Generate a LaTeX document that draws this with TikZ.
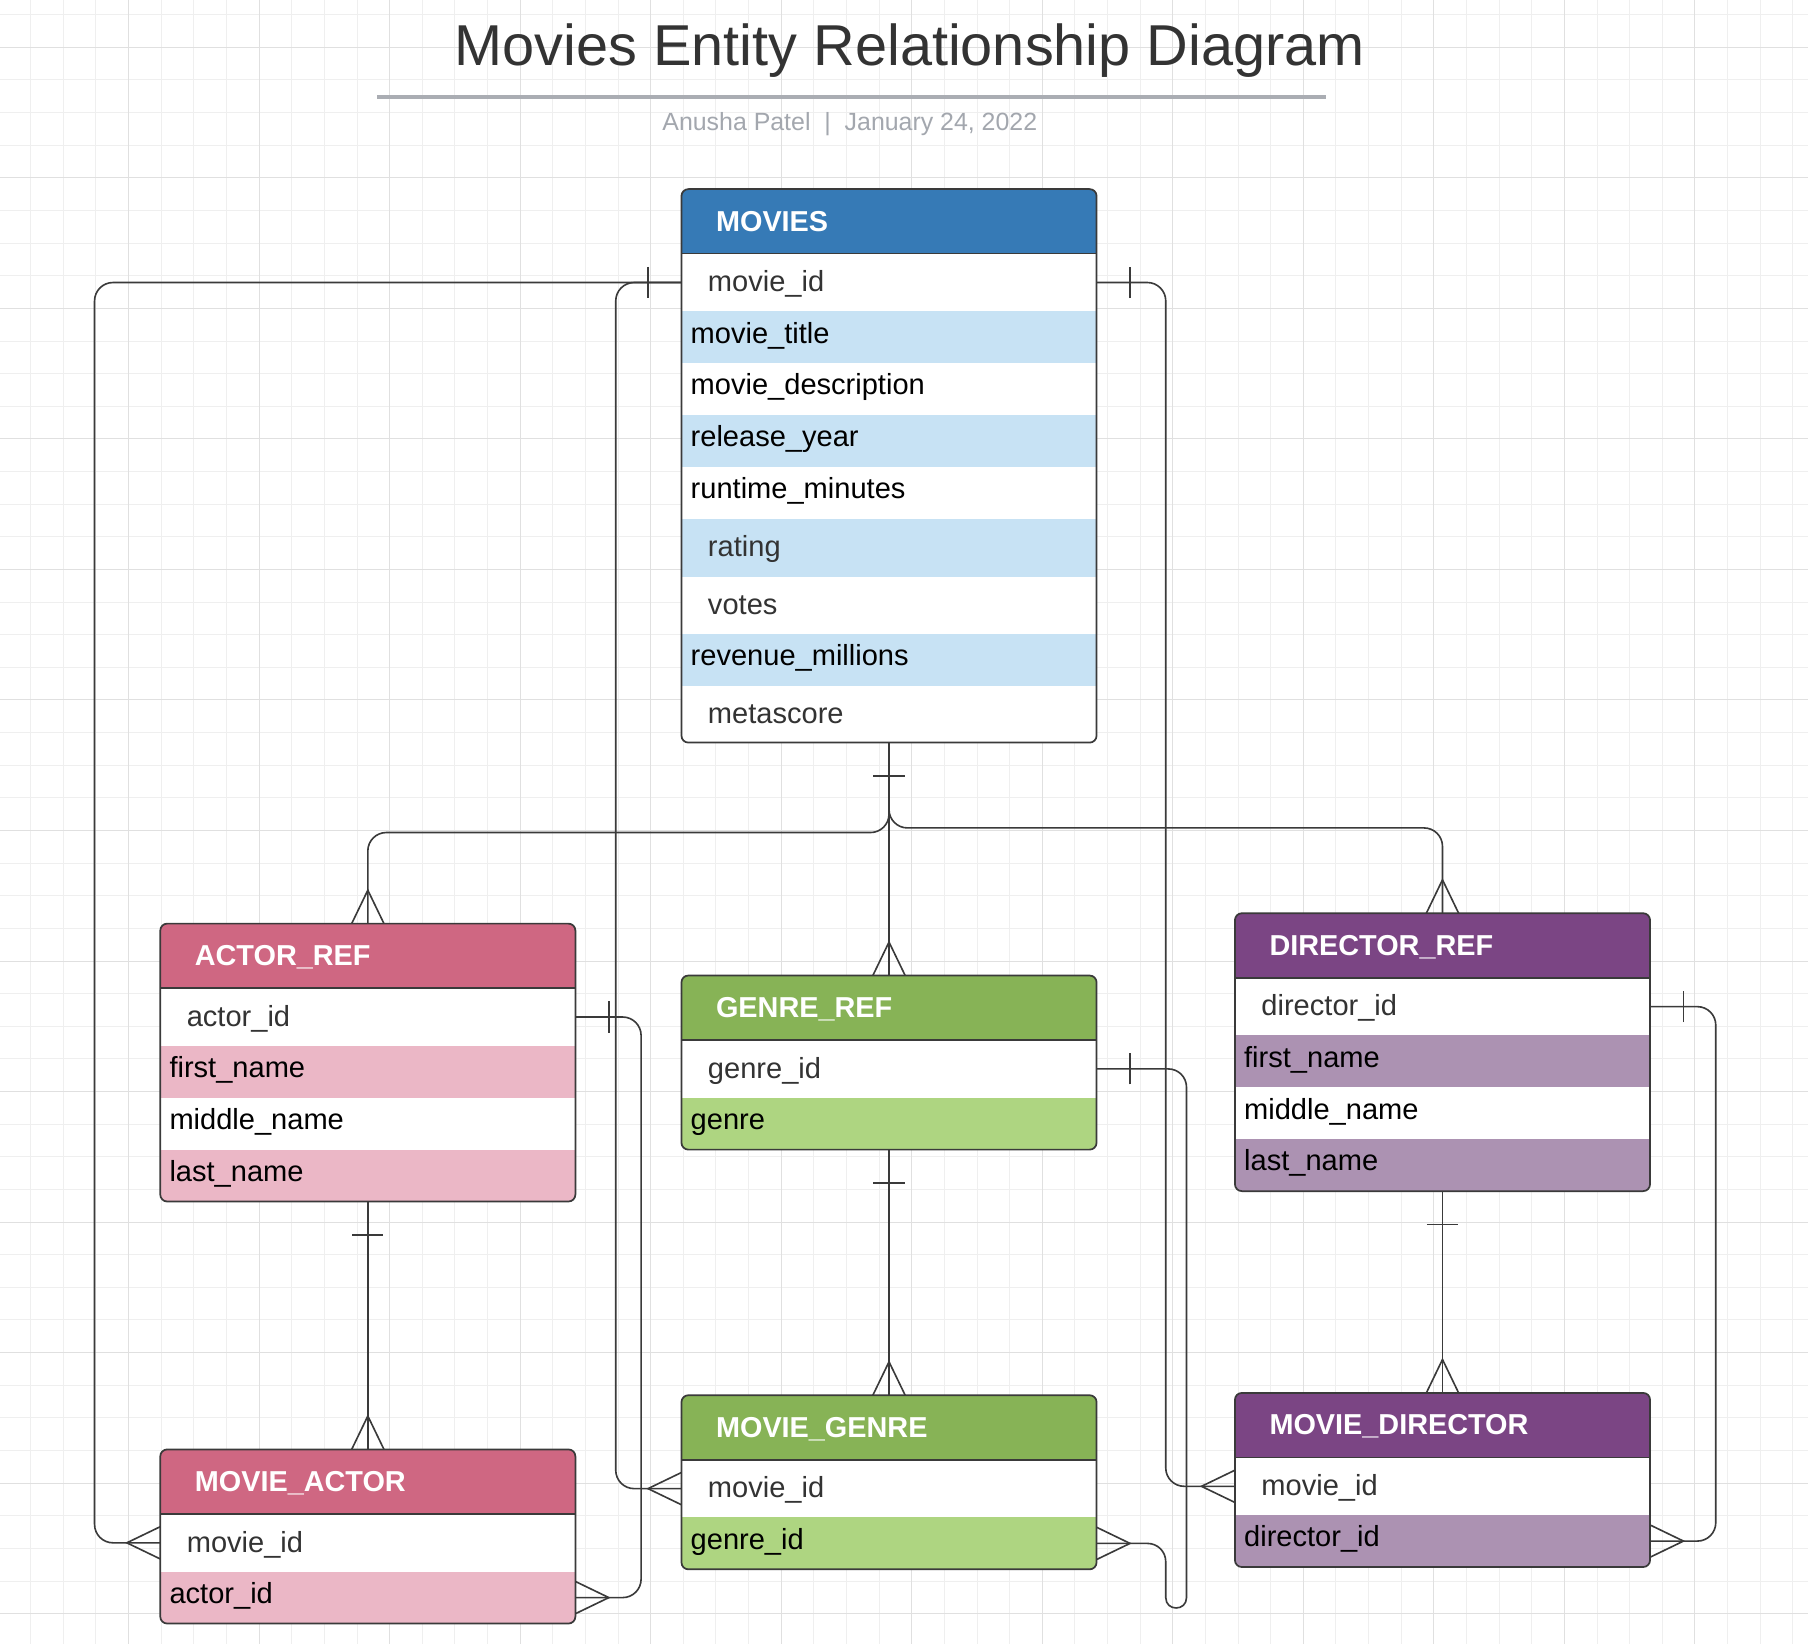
\documentclass[tikz,border=0pt]{standalone}
\usepackage{fontspec}
\setmainfont{Liberation Sans}
\usetikzlibrary{positioning,calc}

\definecolor{moviesblue}{HTML}{367AB6}
\definecolor{moviesrow}{HTML}{C7E2F4}
\definecolor{actorpink}{HTML}{CF6782}
\definecolor{actorrow}{HTML}{EBB7C6}
\definecolor{genregreen}{HTML}{87B356}
\definecolor{genrerow}{HTML}{AED581}
\definecolor{directorpurple}{HTML}{7B4584}
\definecolor{directorrow}{HTML}{AC92B2}
\definecolor{linegray}{HTML}{3A3A3A}
\definecolor{softgray}{HTML}{333333}
\definecolor{gridminor}{HTML}{EFEFEF}
\definecolor{gridmajor}{HTML}{E0E0E0}
\definecolor{subgray}{HTML}{A3A7AE}
\definecolor{rulegray}{HTML}{AAADB3}

\newcommand\fieldfont{\fontsize{12.6}{15}\selectfont}
\newcommand\headfont{\fontsize{12.5}{15}\selectfont\bfseries}

\tikzset{
	hdr/.style={rectangle, anchor=north west, outer sep=0pt, minimum width=180pt, minimum height=28pt, inner xsep=15pt, inner ysep=0pt, text width=150pt, align=left, text height=8.4pt, text depth=0pt, text=white, font=\headfont},
	fld/.style={rectangle, anchor=north west, outer sep=0pt, minimum width=180pt, minimum height=22.5pt, inner xsep=4pt, inner ysep=0pt, text width=172pt, align=left, text height=9.5pt, text depth=4.5pt, text=black, fill=white, font=\fieldfont},
	softfld/.style={fld, inner xsep=11.5pt, text width=157pt, text depth=1.5pt, text=softgray, minimum height=25pt},
	tbl/.style={draw=linegray, line width=0.75pt, rounded corners=3pt},
	rel/.style={draw=linegray, line width=0.7pt},
	route/.style={rel, rounded corners=8pt},
	many/.pic={\draw[rel] (0,-14) -- (-29,0) -- (0,14);},
	one/.pic={\draw[rel] (-29,-13.5) -- (-29,13.5);}
}

\begin{document}
\begin{tikzpicture}[x=0.5pt, y=-0.5pt]
		\useasboundingbox (0,0) rectangle (1568,1426);
		\fill [white] (0,0) rectangle (1568,1426);

		\foreach \i in {0,...,56} \draw [gridminor, line width=0.4pt] ({-1.7+28.3*\i},0) -- ++(0,1426);
		\foreach \i in {0,...,50} \draw [gridminor, line width=0.4pt] (0,{12.7+28.3*\i}) -- ++(1568,0);
		\foreach \i in {0,...,14} \draw [gridmajor, line width=0.4pt] ({-1.7+113.2*\i},0) -- ++(0,1426);
		\foreach \i in {0,...,12} \draw [gridmajor, line width=0.4pt] (0,{41+113.2*\i}) -- ++(1568,0);

		\node [anchor=base, text=softgray, font=\fontsize{25}{30}\selectfont] (title) at (789,57) {Movies Entity Relationship Diagram};
		\draw [rulegray, line width=1.5pt] (327,84) -- (1150,84);
		\node [anchor=base, text=subgray, font=\fontsize{10.8}{13}\selectfont] (byline) at (737,113) {Anusha Patel\ \ |\ \ January 24, 2022};

		\begin{scope}
		\clip [rounded corners=3pt] (591,164) rectangle (951,644);
		\node [hdr, fill=moviesblue] (mv-hd) at (591,164) {MOVIES};
		\node [softfld] (mv-id) at (mv-hd.south west) {movie\_id};
		\node [fld, fill=moviesrow] (mv-title) at (mv-id.south west) {movie\_title};
		\node [fld] (mv-desc) at (mv-title.south west) {movie\_description};
		\node [fld, fill=moviesrow] (mv-year) at (mv-desc.south west) {release\_year};
		\node [fld] (mv-runtime) at (mv-year.south west) {runtime\_minutes};
		\node [softfld, fill=moviesrow] (mv-rating) at (mv-runtime.south west) {rating};
		\node [softfld] (mv-votes) at (mv-rating.south west) {votes};
		\node [fld, fill=moviesrow] (mv-revenue) at (mv-votes.south west) {revenue\_millions};
		\node [softfld, minimum height=24.5pt] (mv-meta) at (mv-revenue.south west) {metascore};
		\end{scope}
		\draw [tbl] (mv-hd.north west) rectangle (mv-meta.south east);
		\draw [rel] (mv-hd.south west) -- (mv-hd.south east);

		\begin{scope}
		\clip [rounded corners=3pt] (139,801) rectangle (499,1042);
		\node [hdr, fill=actorpink] (ar-hd) at (139,801) {ACTOR\_REF};
		\node [softfld] (ar-id) at (ar-hd.south west) {actor\_id};
		\node [fld, fill=actorrow] (ar-first) at (ar-id.south west) {first\_name};
		\node [fld] (ar-middle) at (ar-first.south west) {middle\_name};
		\node [fld, fill=actorrow] (ar-last) at (ar-middle.south west) {last\_name};
		\end{scope}
		\draw [tbl] (ar-hd.north west) rectangle (ar-last.south east);
		\draw [rel] (ar-hd.south west) -- (ar-hd.south east);

		\begin{scope}
		\clip [rounded corners=3pt] (591,846) rectangle (951,997);
		\node [hdr, fill=genregreen] (gr-hd) at (591,846) {GENRE\_REF};
		\node [softfld] (gr-id) at (gr-hd.south west) {genre\_id};
		\node [fld, fill=genrerow] (gr-genre) at (gr-id.south west) {genre};
		\end{scope}
		\draw [tbl] (gr-hd.north west) rectangle (gr-genre.south east);
		\draw [rel] (gr-hd.south west) -- (gr-hd.south east);

		\begin{scope}
		\clip [rounded corners=3pt] (1071,792) rectangle (1431,1033);
		\node [hdr, fill=directorpurple] (dr-hd) at (1071,792) {DIRECTOR\_REF};
		\node [softfld] (dr-id) at (dr-hd.south west) {director\_id};
		\node [fld, fill=directorrow] (dr-first) at (dr-id.south west) {first\_name};
		\node [fld] (dr-middle) at (dr-first.south west) {middle\_name};
		\node [fld, fill=directorrow] (dr-last) at (dr-middle.south west) {last\_name};
		\end{scope}
		\draw [tbl] (dr-hd.north west) rectangle (dr-last.south east);
		\draw [rel] (dr-hd.south west) -- (dr-hd.south east);

		\begin{scope}
		\clip [rounded corners=3pt] (139,1257) rectangle (499,1408);
		\node [hdr, fill=actorpink] (ma-hd) at (139,1257) {MOVIE\_ACTOR};
		\node [softfld] (ma-id) at (ma-hd.south west) {movie\_id};
		\node [fld, fill=actorrow] (ma-actor) at (ma-id.south west) {actor\_id};
		\end{scope}
		\draw [tbl] (ma-hd.north west) rectangle (ma-actor.south east);
		\draw [rel] (ma-hd.south west) -- (ma-hd.south east);

		\begin{scope}
		\clip [rounded corners=3pt] (591,1210) rectangle (951,1361);
		\node [hdr, fill=genregreen] (mg-hd) at (591,1210) {MOVIE\_GENRE};
		\node [softfld] (mg-id) at (mg-hd.south west) {movie\_id};
		\node [fld, fill=genrerow] (mg-genre) at (mg-id.south west) {genre\_id};
		\end{scope}
		\draw [tbl] (mg-hd.north west) rectangle (mg-genre.south east);
		\draw [rel] (mg-hd.south west) -- (mg-hd.south east);

		\begin{scope}
		\clip [rounded corners=3pt] (1071,1208) rectangle (1431,1359);
		\node [hdr, fill=directorpurple] (md-hd) at (1071,1208) {MOVIE\_DIRECTOR};
		\node [softfld] (md-id) at (md-hd.south west) {movie\_id};
		\node [fld, fill=directorrow] (md-dir) at (md-id.south west) {director\_id};
		\end{scope}
		\draw [tbl] (md-hd.north west) rectangle (md-dir.south east);
		\draw [rel] (md-hd.south west) -- (md-hd.south east);

		\coordinate (laneA) at (82,0);
		\coordinate (laneB) at (534,0);
		\coordinate (laneC) at (556,0);
		\coordinate (laneD) at (1011,0);
		\coordinate (laneE) at (1029,0);
		\coordinate (laneF) at (1488,0);

		\coordinate (gk1) at (laneE |- gr-id.east);
		\coordinate (gk2) at ($(laneE |- mg-genre.east)+(0,47)$);
		\coordinate (gk3) at ($(laneD |- mg-genre.east)+(0,47)$);
		\coordinate (gk4) at (laneD |- mg-genre.east);

		\draw [route] (mv-id.west) -| (laneA |- ma-id.west) -- (ma-id.west);
		\draw [route] (mv-id.west) -| (laneB |- mg-id.west) -- (mg-id.west);
		\draw [route] (mv-id.east) -| (laneD |- md-id.west) -- (md-id.west);
		\draw [route] (mv-meta.south) -- ++(0,78) -| (ar-hd.north);
		\draw [route] (mv-meta.south) -- (gr-hd.north);
		\draw [route] (mv-meta.south) -- ++(0,74) -| (dr-hd.north);
		\draw [route] (ar-id.east) -| (laneC |- ma-actor.east) -- (ma-actor.east);
		\draw [route] (ar-last.south) -- (ma-hd.north);
		\draw [route] (gr-genre.south) -- (mg-hd.north);
		\draw [rel] (gr-id.east) -- ($(gk1)+(-16,0)$) .. controls ($(gk1)+(-7,0)$) and ($(gk1)+(0,7)$) .. ($(gk1)+(0,16)$) -- (gk2) .. controls ($(gk2)+(0,12)$) and ($(gk3)+(0,12)$) .. (gk3) -- ($(gk4)+(0,16)$) .. controls ($(gk4)+(0,7)$) and ($(gk4)+(-7,0)$) .. ($(gk4)+(-16,0)$) -- (mg-genre.east);
		\draw [route] (dr-id.east) -| (laneF |- md-dir.east) -- (md-dir.east);
		\draw [route] (dr-last.south) -- (md-hd.north);

		\pic at (mv-id.west) {one};
		\pic [rotate=180] at (mv-id.east) {one};
		\pic [rotate=90] at (mv-meta.south) {one};
		\pic [rotate=180] at (ar-id.east) {one};
		\pic [rotate=90] at (ar-last.south) {one};
		\pic [rotate=180] at (gr-id.east) {one};
		\pic [rotate=90] at (gr-genre.south) {one};
		\pic [rotate=180] at (dr-id.east) {one};
		\pic [rotate=90] at (dr-last.south) {one};

		\pic at (ma-id.west) {many};
		\pic at (mg-id.west) {many};
		\pic at (md-id.west) {many};
		\pic [rotate=-90] at (ar-hd.north) {many};
		\pic [rotate=-90] at (gr-hd.north) {many};
		\pic [rotate=-90] at (dr-hd.north) {many};
		\pic [rotate=-90] at (ma-hd.north) {many};
		\pic [rotate=-90] at (mg-hd.north) {many};
		\pic [rotate=-90] at (md-hd.north) {many};
		\pic [rotate=180] at (ma-actor.east) {many};
		\pic [rotate=180] at (mg-genre.east) {many};
		\pic [rotate=180] at (md-dir.east) {many};

\end{tikzpicture}
\end{document}
